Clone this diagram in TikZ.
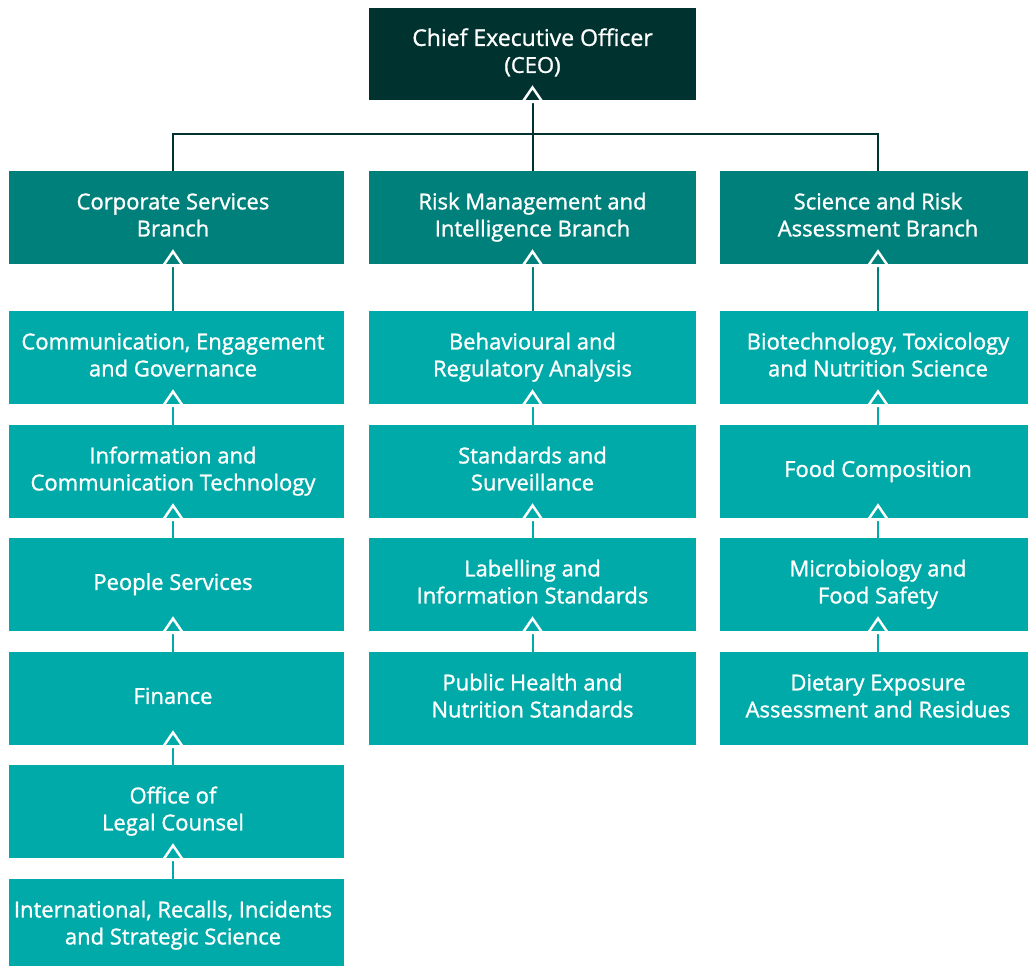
\documentclass[tikz,border=0pt]{standalone}
\usepackage{fontspec}
\setmainfont{Open Sans}[FakeBold=1.2]
\usetikzlibrary{arrows.meta}

\definecolor{ceocol}{HTML}{00332F}
\definecolor{branchcol}{HTML}{00807A}
\definecolor{unitcol}{HTML}{00AAA8}

\tikzstyle{orgbox} = [rectangle, inner sep=0pt, text=white,
    font=\fontsize{22}{27}\selectfont]
\tikzstyle{ceobox} = [orgbox, fill=ceocol, minimum width=327pt, minimum height=92pt]
\tikzstyle{branchbox} = [orgbox, fill=branchcol, minimum height=93pt]
\tikzstyle{unitbox} = [orgbox, fill=unitcol, minimum height=93pt]
\tikzstyle{uparrow} = [line width=2pt, shorten >=-15pt,
    -{Triangle[open, width=24pt, length=18pt, line width=2.5pt, color=white]}]

% text block, nudged sideways inside its box
\newcommand{\boxlabel}[2]{\hspace*{#1}\begin{tabular}{@{}c@{}}#2\end{tabular}}

\begin{document}
\begin{tikzpicture}[x=1pt, y=-1pt]
\useasboundingbox (0,0) rectangle (1028,966);

% column lines
\coordinate (lx) at (173,0);
\coordinate (mx) at (532.5,0);
\coordinate (rx) at (878,0);
\coordinate (bar) at (0,134);

\node[ceobox] (ceo) at (532.5,54) {\boxlabel{0pt}{\fontsize{23}{27}\selectfont Chief Executive Officer\\(CEO)}};

% branches
\node[branchbox, minimum width=335pt] (corp) at (176.5,217.5) {\boxlabel{-7pt}{Corporate Services\\Branch}};
\node[branchbox, minimum width=327pt] (risk) at (532.5,217.5) {\boxlabel{0pt}{Risk Management and\\Intelligence Branch}};
\node[branchbox, minimum width=308pt] (sci) at (874,217.5) {\boxlabel{8pt}{Science and Risk\\Assessment Branch}};

% corporate services
\node[unitbox, minimum width=335pt] (ceg) at (176.5,357.5) {\boxlabel{-7pt}{Communication, Engagement\\and Governance}};
\node[unitbox, minimum width=335pt] (ict) at (176.5,471.5) {\boxlabel{-7pt}{Information and\\Communication Technology}};
\node[unitbox, minimum width=335pt] (people) at (176.5,584.5) {\boxlabel{-7pt}{People Services}};
\node[unitbox, minimum width=335pt] (fin) at (176.5,698.5) {\boxlabel{-7pt}{Finance}};
\node[unitbox, minimum width=335pt] (legal) at (176.5,811.5) {\boxlabel{-7pt}{Office of\\Legal Counsel}};
\node[unitbox, minimum width=335pt] (intl) at (176.5,925.5) {\boxlabel{-7pt}{International, Recalls, Incidents\\and Strategic Science}};

% risk management
\node[unitbox, minimum width=327pt] (bra) at (532.5,357.5) {\boxlabel{0pt}{Behavioural and\\Regulatory Analysis}};
\node[unitbox, minimum width=327pt] (stds) at (532.5,471.5) {\boxlabel{0pt}{Standards and\\Surveillance}};
\node[unitbox, minimum width=327pt] (label) at (532.5,584.5) {\boxlabel{0pt}{Labelling and\\Information Standards}};
\node[unitbox, minimum width=327pt] (phn) at (532.5,698.5) {\boxlabel{0pt}{Public Health and\\Nutrition Standards}};

% science and risk assessment
\node[unitbox, minimum width=308pt] (btn) at (874,357.5) {\boxlabel{8pt}{Biotechnology, Toxicology\\and Nutrition Science}};
\node[unitbox, minimum width=308pt] (comp) at (874,471.5) {\boxlabel{8pt}{Food Composition}};
\node[unitbox, minimum width=308pt] (micro) at (874,584.5) {\boxlabel{8pt}{Microbiology and\\Food Safety}};
\node[unitbox, minimum width=308pt] (diet) at (874,698.5) {\boxlabel{8pt}{Dietary Exposure\\Assessment and Residues}};

% branches up to the CEO
\draw[line width=2pt, draw=ceocol] (corp.north -| lx) -- (bar -| lx) -- (bar -| rx) -- (sci.north -| rx);
\draw[uparrow, draw=ceocol] (risk.north -| mx) -- (ceo.south -| mx);

% units up to their branch
\draw[uparrow, draw=branchcol] (ceg.north -| lx) -- (corp.south -| lx);
\draw[uparrow, draw=branchcol] (bra.north -| mx) -- (risk.south -| mx);
\draw[uparrow, draw=branchcol] (btn.north -| rx) -- (sci.south -| rx);

\foreach \lo/\hi in {ict/ceg, people/ict, fin/people, legal/fin, intl/legal}
  \draw[uparrow, draw=unitcol] (\lo.north -| lx) -- (\hi.south -| lx);
\foreach \lo/\hi in {stds/bra, label/stds, phn/label}
  \draw[uparrow, draw=unitcol] (\lo.north -| mx) -- (\hi.south -| mx);
\foreach \lo/\hi in {comp/btn, micro/comp, diet/micro}
  \draw[uparrow, draw=unitcol] (\lo.north -| rx) -- (\hi.south -| rx);
\end{tikzpicture}
\end{document}
